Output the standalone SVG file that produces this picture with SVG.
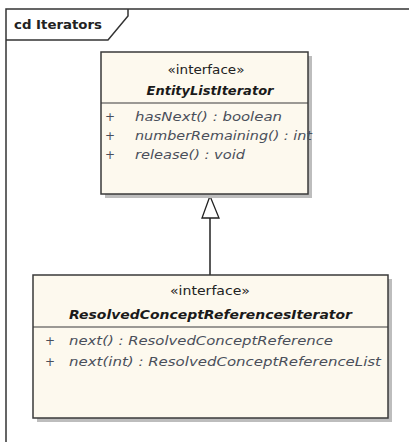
<svg xmlns="http://www.w3.org/2000/svg" width="409" height="442" viewBox="0 0 409 442">
<style>
.box{fill:#FDF9EE;stroke:#3a3a3a;stroke-width:1.5}
.shadow{fill:#bdbdbd}
.div{stroke:#3a3a3a;stroke-width:1.2}
.st{font-family:"DejaVu Sans",Verdana,sans-serif;font-size:11.5px;fill:#222;text-anchor:middle}
.nm{font-family:"DejaVu Sans",Verdana,sans-serif;font-size:12.5px;font-weight:bold;font-style:italic;fill:#1a1a1a;text-anchor:middle}
.op{font-family:"DejaVu Sans",Verdana,sans-serif;font-size:12.5px;font-style:italic;fill:#4a4f5a}
.pl{font-family:"DejaVu Sans",Verdana,sans-serif;font-size:12px;fill:#4a4f5a}
.frame{fill:none;stroke:#333;stroke-width:1.5}
</style>
<rect width="409" height="442" fill="#ffffff"/>
<g id="frame">
<path class="frame" d="M6,442 V9 H409"/>
<path class="frame" d="M6,40 H108 L128,16 V9"/>
<text x="14" y="29" font-family="DejaVu Sans,Verdana,sans-serif" font-size="12.5px" font-weight="bold" fill="#222" textLength="88" lengthAdjust="spacingAndGlyphs">cd Iterators</text>
</g>
<g id="connectors">
<line x1="210" y1="218" x2="210" y2="275" stroke="#222" stroke-width="1.5"/>
<polygon points="210,196 202,218 219,218" fill="#ffffff" stroke="#222" stroke-width="1.3"/>
</g>
<g id="EntityListIterator">
<rect class="shadow" x="105" y="56" width="207" height="142"/>
<rect class="box" x="101" y="52" width="207" height="142"/>
<line class="div" x1="101" y1="103" x2="308" y2="103"/>
<text class="st" x="206" y="74" textLength="77" lengthAdjust="spacingAndGlyphs">«interface»</text>
<text class="nm" x="210" y="95" textLength="127" lengthAdjust="spacingAndGlyphs">EntityListIterator</text>
<text class="pl" x="105" y="121">+</text>
<text class="op" x="135" y="121" textLength="147" lengthAdjust="spacingAndGlyphs">hasNext() : boolean</text>
<text class="pl" x="105" y="140">+</text>
<text class="op" x="135" y="140" textLength="177" lengthAdjust="spacingAndGlyphs">numberRemaining() : int</text>
<text class="pl" x="105" y="159">+</text>
<text class="op" x="135" y="159" textLength="110" lengthAdjust="spacingAndGlyphs">release() : void</text>
</g>
<g id="ResolvedConceptReferencesIterator">
<rect class="shadow" x="37" y="279" width="355" height="143"/>
<rect class="box" x="33" y="275" width="355" height="143"/>
<line class="div" x1="33" y1="327" x2="388" y2="327"/>
<text class="st" x="210" y="295" textLength="80" lengthAdjust="spacingAndGlyphs">«interface»</text>
<text class="nm" x="210.5" y="319" textLength="283" lengthAdjust="spacingAndGlyphs">ResolvedConceptReferencesIterator</text>
<text class="pl" x="45" y="345">+</text>
<text class="op" x="69" y="345" textLength="264" lengthAdjust="spacingAndGlyphs">next() : ResolvedConceptReference</text>
<text class="pl" x="45" y="366">+</text>
<text class="op" x="69" y="366" textLength="312" lengthAdjust="spacingAndGlyphs">next(int) : ResolvedConceptReferenceList</text>
</g>
</svg>
